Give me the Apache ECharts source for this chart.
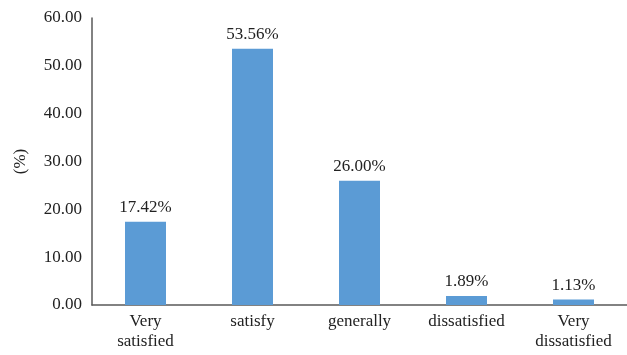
<!DOCTYPE html>
<html><head><meta charset="utf-8">
<script src="https://cdn.jsdelivr.net/npm/echarts@6/dist/echarts.min.js"></script>
<style>html,body{margin:0;padding:0;background:#fff}#c{width:627px;height:355px}</style>
</head><body><div id="c"></div>
<script>
const categories = ["Very\nsatisfied", "satisfy", "generally", "dissatisfied", "Very\ndissatisfied"];
const values = [17.42, 53.56, 26.00, 1.89, 1.13];
const yMin = 0, yMax = 60, yStep = 10;
const chart = echarts.init(document.getElementById('c'));
const font = "'Liberation Serif', 'DejaVu Serif', serif";
chart.setOption({
  animation: false,
  grid: {left: 92, right: 0, top: 18, bottom: 50},
  xAxis: {
    type: 'category', data: categories,
    axisLine: {lineStyle: {color: '#595959', width: 1.5}},
    axisTick: {show: false},
    axisLabel: {color: '#222', fontFamily: font, fontSize: 17, lineHeight: 20, margin: 7, interval: 0}
  },
  yAxis: {
    type: 'value', min: yMin, max: yMax, interval: yStep,
    name: '(%)', nameLocation: 'middle', nameGap: 63, nameRotate: 90,
    nameTextStyle: {color: '#222', fontFamily: font, fontSize: 17},
    axisLine: {show: true, lineStyle: {color: '#595959', width: 1.5}},
    axisTick: {show: false},
    splitLine: {show: false},
    axisLabel: {color: '#222', fontFamily: font, fontSize: 17, margin: 10, formatter: v => v.toFixed(2)}
  },
  series: [{
    type: 'bar', data: values, barWidth: 41,
    itemStyle: {color: '#5B9BD5'},
    label: {show: true, position: 'top', distance: 6, color: '#222', fontFamily: font, fontSize: 17,
      formatter: p => p.value.toFixed(2) + '%'}
  }]
});
</script></body></html>
